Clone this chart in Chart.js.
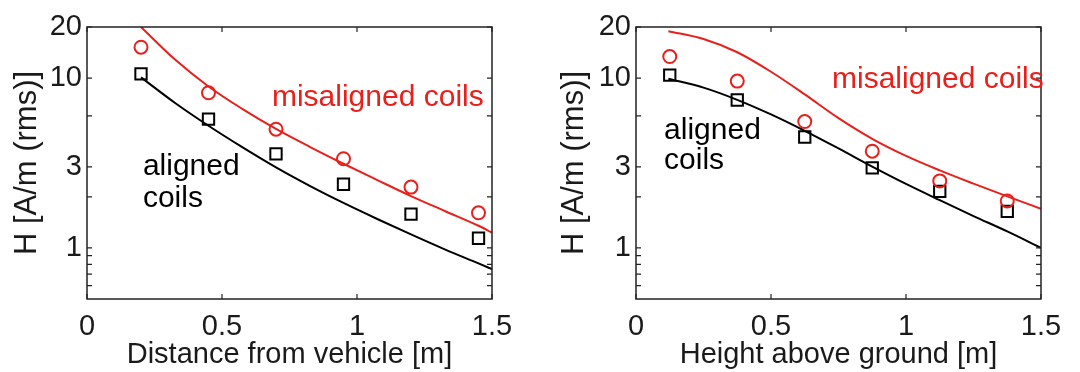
<!DOCTYPE html>
<html>
<head>
<meta charset="utf-8">
<script src="https://cdn.jsdelivr.net/npm/chart.js@4.4.1/dist/chart.umd.min.js"></script>
<style>
  html, body { margin: 0; padding: 0; background: #fff; }
  #wrap { position: relative; width: 1080px; height: 372px; }
  .panel { position: absolute; top: 0; width: 540px; height: 372px; }
</style>
</head>
<body>
<div id="wrap">
  <div class="panel" style="left:0"><canvas id="left" width="540" height="372"></canvas></div>
  <div class="panel" style="left:540px"><canvas id="right" width="540" height="372"></canvas></div>
</div>
<script>
// Left panel: distance from vehicle
const distX = [0.2, 0.45, 0.7, 0.95, 1.2, 1.45];
const distMisaligned = [15.2, 8.2, 5.0, 3.35, 2.28, 1.61];
const distAligned = [10.6, 5.73, 3.58, 2.37, 1.58, 1.14];
const distFitX = [0.2, 0.325, 0.45, 0.575, 0.7, 0.825, 0.95, 1.075, 1.2, 1.325, 1.45, 1.5];
const distFitMisaligned = [20, 12.9, 8.93, 6.59, 5.02, 3.94, 3.13, 2.51, 2.02, 1.65, 1.35, 1.23];
const distFitAligned = [10.1, 7.16, 5.24, 3.92, 2.98, 2.32, 1.84, 1.48, 1.2, 0.98, 0.81, 0.75];

// Right panel: height above ground
const heightX = [0.125, 0.375, 0.625, 0.875, 1.125, 1.375];
const heightMisaligned = [13.4, 9.6, 5.55, 3.71, 2.48, 1.89];
const heightAligned = [10.4, 7.43, 4.5, 2.96, 2.15, 1.64];
const heightFitX = [0.12, 0.25, 0.375, 0.5, 0.625, 0.75, 0.875, 1.0, 1.125, 1.25, 1.375, 1.5];
const heightFitMisaligned = [18.9, 17.0, 14.2, 10.9, 8.02, 5.81, 4.39, 3.48, 2.86, 2.39, 2.01, 1.7];
const heightFitAligned = [9.91, 8.79, 7.45, 6.11, 4.89, 3.85, 3.01, 2.38, 1.91, 1.54, 1.25, 1.0];

// Axis ticks
const xTicks = [0, 0.5, 1, 1.5];
const yTicks = [0.6, 0.7, 0.8, 0.9, 1, 2, 3, 6, 10, 20];
const yLabels = [1, 3, 10, 20];

const RED = '#e8201c';
const BLACK = '#000';
const TEXT = '#1a1a1a';
const FONT = '"Liberation Sans", Arial, sans-serif';

const zip = (xs, ys) => xs.map((x, i) => ({ x: x, y: ys[i] }));

// box around the plot, inward ticks, text notes
const framePlugin = {
    id: 'frame',
    afterDatasetsDraw(chart, args, opts) {
        const { ctx, chartArea: a, scales: { x, y } } = chart;
        ctx.save();
        ctx.strokeStyle = '#222';
        ctx.lineWidth = 1.5;
        ctx.strokeRect(a.left, a.top, a.width, a.height);
        ctx.lineWidth = 1.2;
        ctx.beginPath();
        x.ticks.forEach(t => {
            const px = x.getPixelForValue(t.value);
            ctx.moveTo(px, a.bottom); ctx.lineTo(px, a.bottom - 5);
            ctx.moveTo(px, a.top); ctx.lineTo(px, a.top + 5);
        });
        y.ticks.forEach(t => {
            const py = y.getPixelForValue(t.value);
            ctx.moveTo(a.left, py); ctx.lineTo(a.left + 5, py);
            ctx.moveTo(a.right, py); ctx.lineTo(a.right - 5, py);
        });
        ctx.stroke();

        ctx.font = '30px ' + FONT;
        ctx.textAlign = 'left';
        ctx.textBaseline = 'alphabetic';
        (opts.notes || []).forEach(n => {
            ctx.fillStyle = n.color;
            ctx.fillText(n.text, x.getPixelForValue(n.x), y.getPixelForValue(n.y));
        });
        ctx.restore();
    }
};

function makeChart(id, cfg) {
    return new Chart(document.getElementById(id), {
        type: 'scatter',
        data: {
            datasets: [
                {
                    data: zip(cfg.fitX, cfg.fitMis), showLine: true, borderColor: RED, borderWidth: 2,
                    pointRadius: 0, cubicInterpolationMode: 'monotone'
                },
                {
                    data: zip(cfg.fitX, cfg.fitAl), showLine: true, borderColor: BLACK, borderWidth: 2,
                    pointRadius: 0, cubicInterpolationMode: 'monotone'
                },
                {
                    data: zip(cfg.x, cfg.mis), pointStyle: 'circle', pointRadius: 6.5,
                    borderColor: RED, backgroundColor: 'rgba(0,0,0,0)', borderWidth: 2
                },
                {
                    data: zip(cfg.x, cfg.al), pointStyle: 'rect', pointRadius: 8,
                    borderColor: BLACK, backgroundColor: 'rgba(0,0,0,0)', borderWidth: 2
                }
            ]
        },
        options: {
            responsive: false,
            animation: false,
            devicePixelRatio: 1,
            layout: { padding: { top: 27, right: cfg.padRight, bottom: 0, left: 0 } },
            plugins: {
                legend: { display: false },
                tooltip: { enabled: false },
                frame: { notes: cfg.notes }
            },
            scales: {
                x: {
                    type: 'linear', min: 0, max: 1.5,
                    afterBuildTicks: s => { s.ticks = xTicks.map(v => ({ value: v })); },
                    afterFit: s => { s.height = 73; },
                    grid: { display: false, drawTicks: false },
                    border: { display: false },
                    ticks: { font: { family: FONT, size: 29 }, color: TEXT, padding: 11, maxRotation: 0, autoSkip: false,
                        callback: v => String(v) },
                    title: { display: true, text: cfg.xTitle, color: TEXT, font: { family: FONT, size: 29 },
                        padding: { top: 0, bottom: 0 } }
                },
                y: {
                    type: 'logarithmic', min: 0.5, max: 20,
                    afterBuildTicks: s => { s.ticks = yTicks.map(v => ({ value: v })); },
                    afterFit: s => { s.width = cfg.yWidth; },
                    grid: { display: false, drawTicks: false },
                    border: { display: false },
                    ticks: { font: { family: FONT, size: 29 }, color: TEXT, padding: 5, autoSkip: false,
                        callback: v => yLabels.includes(v) ? String(v) : '' },
                    title: { display: true, text: 'H [A/m (rms)]', color: TEXT, font: { family: FONT, size: 31 },
                        padding: { top: cfg.yTitlePad, bottom: 0 } }
                }
            }
        },
        plugins: [framePlugin]
    });
}

makeChart('left', {
    x: distX, mis: distMisaligned, al: distAligned,
    fitX: distFitX, fitMis: distFitMisaligned, fitAl: distFitAligned,
    xTitle: 'Distance from vehicle [m]', yWidth: 87, padRight: 48, yTitlePad: 9,
    notes: [
        { text: 'misaligned coils', x: 0.685, y: 6.89, color: RED },
        { text: 'aligned', x: 0.207, y: 2.68, color: BLACK },
        { text: 'coils', x: 0.207, y: 1.74, color: BLACK }
    ]
});

makeChart('right', {
    x: heightX, mis: heightMisaligned, al: heightAligned,
    fitX: heightFitX, fitMis: heightFitMisaligned, fitAl: heightFitAligned,
    xTitle: 'Height above ground [m]', yWidth: 96, padRight: 39, yTitlePad: 16,
    notes: [
        { text: 'misaligned coils', x: 0.726, y: 8.78, color: RED },
        { text: 'aligned', x: 0.104, y: 4.36, color: BLACK },
        { text: 'coils', x: 0.104, y: 2.91, color: BLACK }
    ]
});
</script>
</body>
</html>
